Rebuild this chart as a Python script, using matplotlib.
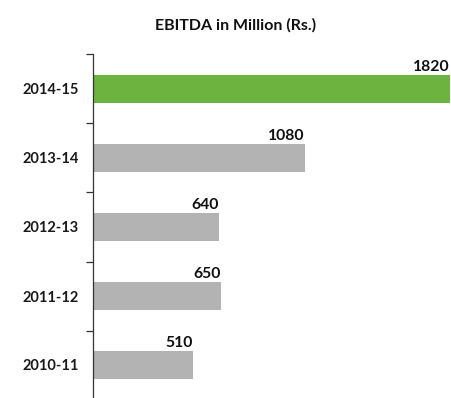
import matplotlib
matplotlib.use("Agg")
import matplotlib.pyplot as plt
import numpy as np

years = ["2014-15", "2013-14", "2012-13", "2011-12", "2010-11"]
ebitda = [1820, 1080, 640, 650, 510]
colors = ["#6db33f", "#b3b3b3", "#b3b3b3", "#b3b3b3", "#b3b3b3"]
title = "EBITDA in Million (Rs.)"

plt.rcParams['font.family'] = ['Lato', 'DejaVu Sans']

fig = plt.figure(figsize=(4.51, 3.98), dpi=100)
ax = fig.add_axes([93/451, 1 - 399.5/398, 1 - 93/451, (399.5 - 54.5)/398])

y = np.arange(len(years))
ax.barh(y, ebitda, height=0.41, color=colors)
ax.set_ylim(len(years) - 0.5, -0.5)
ax.set_xlim(0, 1825)

for yi, v in zip(y, ebitda):
    ax.text(v, yi - 0.215, str(v), ha='right', va='bottom', fontsize=11.3,
            fontweight='bold', color='#111111')

ax.set_yticks(y)
ax.set_yticklabels(years, fontsize=10.5, fontweight='bold', color='#1a1a1a')
ax.tick_params(axis='y', which='major', length=0, pad=10)
ax.set_yticks(np.arange(len(years) + 1) - 0.5, minor=True)
ax.tick_params(axis='y', which='minor', length=5, width=0.9, color='#333333', direction='out')
ax.set_xticks([])
for s in ['top', 'right', 'bottom']:
    ax.spines[s].set_visible(False)
ax.spines['left'].set_color('#333333')
ax.spines['left'].set_linewidth(0.9)

fig.text(236/451, 1 - 25/398, title, ha='center', va='center', fontsize=11.5,
         fontweight='bold', color='#111111')

fig.savefig("out.png", dpi=100)
